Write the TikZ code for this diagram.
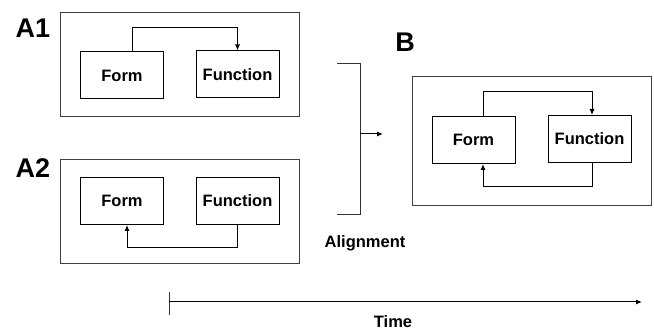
\documentclass[tikz,border=0pt]{standalone}
\usepackage{fontspec}
\setmainfont{Liberation Sans}
\usetikzlibrary{arrows.meta,calc}
\begin{document}
\begin{tikzpicture}[x=1pt,y=-1pt,
  outer/.style={draw=black!75,line width=0.9pt,minimum width=239pt,inner sep=0pt},
  inbox/.style={draw=black,line width=1pt,minimum width=83pt,minimum height=47pt,inner sep=0pt,font=\fontsize{16.5}{18}\selectfont\bfseries},
  lbl/.style={font=\fontsize{27}{30}\selectfont\bfseries,inner sep=0pt},
  sublbl/.style={font=\fontsize{16.5}{18}\selectfont\bfseries,inner sep=0pt},
  link/.style={draw=black,line width=1pt,-{Latex[length=6pt,width=5pt]}},
  plain/.style={draw=black!80,line width=0.9pt}]
\useasboundingbox (0,0) rectangle (654,331);
% A1
\node[outer,minimum height=104pt] (oa1) at (179.5,64) {};
\node[lbl] (la1) at (33,28) {A1};
\node[inbox] (f1) at (122,75.5) {Form};
\node[inbox] (fn1) at (237.5,74.5) {Function};
\coordinate (t1) at (0,28);
\draw[link] ([xshift=10pt]f1.north) |- (t1 -| fn1.north) -- (fn1.north);
% A2
\node[outer,minimum height=104pt] (oa2) at (179.5,211) {};
\node[lbl] (la2) at (33,168) {A2};
\node[inbox] (f2) at (122,201) {Form};
\node[inbox] (fn2) at (237.5,201) {Function};
\coordinate (b2) at (0,248);
\coordinate (f2in) at ([xshift=5pt]f2.south);
\draw[link] (fn2.south) |- (b2 -| f2in) -- (f2in);
% B
\node[outer,minimum height=129pt] (ob) at (531.5,140.5) {};
\node[lbl] (lb) at (405,42) {B};
\node[inbox] (f3) at (473.5,140) {Form};
\node[inbox] (fn3) at (589.5,139) {Function};
\coordinate (t3) at (0,92);
\coordinate (b3) at (0,187);
\coordinate (f3top) at ([xshift=9.5pt]f3.north);
\coordinate (f3bot) at ([xshift=9.5pt]f3.south);
\coordinate (fn3top) at ([xshift=2.5pt]fn3.north);
\coordinate (fn3bot) at ([xshift=2.5pt]fn3.south);
\draw[link] (f3top) |- (t3 -| fn3top) -- (fn3top);
\draw[link] (fn3bot) |- (b3 -| f3bot) -- (f3bot);
% Alignment bracket
\coordinate (br1) at (337,63);
\coordinate (br2) at (360,63);
\coordinate (br3) at (360,214);
\coordinate (br4) at (337,214);
\coordinate (brm) at (360,134);
\coordinate (bre) at (383,134);
\draw[plain] (br1) -- (br2) -- (br3) -- (br4);
\draw[link] (brm) -- (bre);
\node[sublbl] (al) at (365,243) {Alignment};
% Time axis
\coordinate (ts) at (169,302);
\coordinate (te) at (642,302);
\coordinate (tk1) at (169,292);
\coordinate (tk2) at (169,315);
\draw[plain] (tk1) -- (tk2);
\draw[link] (ts) -- (te);
\node[sublbl] (tm) at (393,322) {Time};
\end{tikzpicture}
\end{document}
